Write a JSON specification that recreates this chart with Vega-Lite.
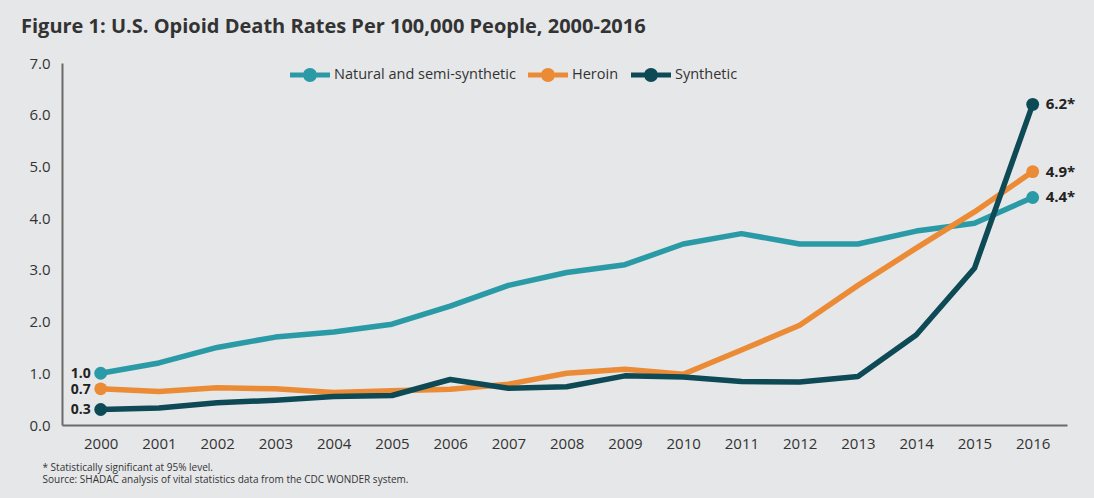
{
  "$schema": "https://vega.github.io/schema/vega-lite/v6.json",
  "width": 1005,
  "height": 362,
  "autosize": "none",
  "padding": {"left": 62, "top": 63, "right": 27, "bottom": 73},
  "background": "#e6e7e9",
  "title": {
    "text": "Figure 1: U.S. Opioid Death Rates Per 100,000 People, 2000-2016",
    "anchor": "start",
    "frame": "group",
    "dx": -41,
    "dy": -14,
    "fontSize": 20,
    "fontWeight": "bold",
    "font": "Open Sans",
    "color": "#333333"
  },
  "config": {
    "view": {"stroke": null},
    "font": "Open Sans"
  },
  "data": {
    "values": [
      {"series": "Natural and semi-synthetic", "year": 2000, "rate": 1.0},
      {"series": "Natural and semi-synthetic", "year": 2001, "rate": 1.2},
      {"series": "Natural and semi-synthetic", "year": 2002, "rate": 1.5},
      {"series": "Natural and semi-synthetic", "year": 2003, "rate": 1.7},
      {"series": "Natural and semi-synthetic", "year": 2004, "rate": 1.8},
      {"series": "Natural and semi-synthetic", "year": 2005, "rate": 1.95},
      {"series": "Natural and semi-synthetic", "year": 2006, "rate": 2.3},
      {"series": "Natural and semi-synthetic", "year": 2007, "rate": 2.7},
      {"series": "Natural and semi-synthetic", "year": 2008, "rate": 2.95},
      {"series": "Natural and semi-synthetic", "year": 2009, "rate": 3.1},
      {"series": "Natural and semi-synthetic", "year": 2010, "rate": 3.5},
      {"series": "Natural and semi-synthetic", "year": 2011, "rate": 3.7},
      {"series": "Natural and semi-synthetic", "year": 2012, "rate": 3.5},
      {"series": "Natural and semi-synthetic", "year": 2013, "rate": 3.5},
      {"series": "Natural and semi-synthetic", "year": 2014, "rate": 3.75},
      {"series": "Natural and semi-synthetic", "year": 2015, "rate": 3.9},
      {"series": "Natural and semi-synthetic", "year": 2016, "rate": 4.4},
      {"series": "Heroin", "year": 2000, "rate": 0.7},
      {"series": "Heroin", "year": 2001, "rate": 0.65},
      {"series": "Heroin", "year": 2002, "rate": 0.72},
      {"series": "Heroin", "year": 2003, "rate": 0.7},
      {"series": "Heroin", "year": 2004, "rate": 0.63},
      {"series": "Heroin", "year": 2005, "rate": 0.66},
      {"series": "Heroin", "year": 2006, "rate": 0.69},
      {"series": "Heroin", "year": 2007, "rate": 0.79},
      {"series": "Heroin", "year": 2008, "rate": 1.0},
      {"series": "Heroin", "year": 2009, "rate": 1.08},
      {"series": "Heroin", "year": 2010, "rate": 0.98},
      {"series": "Heroin", "year": 2011, "rate": 1.45},
      {"series": "Heroin", "year": 2012, "rate": 1.93},
      {"series": "Heroin", "year": 2013, "rate": 2.7},
      {"series": "Heroin", "year": 2014, "rate": 3.42},
      {"series": "Heroin", "year": 2015, "rate": 4.12},
      {"series": "Heroin", "year": 2016, "rate": 4.9},
      {"series": "Synthetic", "year": 2000, "rate": 0.3},
      {"series": "Synthetic", "year": 2001, "rate": 0.33},
      {"series": "Synthetic", "year": 2002, "rate": 0.43},
      {"series": "Synthetic", "year": 2003, "rate": 0.48},
      {"series": "Synthetic", "year": 2004, "rate": 0.55},
      {"series": "Synthetic", "year": 2005, "rate": 0.57},
      {"series": "Synthetic", "year": 2006, "rate": 0.88},
      {"series": "Synthetic", "year": 2007, "rate": 0.71},
      {"series": "Synthetic", "year": 2008, "rate": 0.74},
      {"series": "Synthetic", "year": 2009, "rate": 0.95},
      {"series": "Synthetic", "year": 2010, "rate": 0.93},
      {"series": "Synthetic", "year": 2011, "rate": 0.84},
      {"series": "Synthetic", "year": 2012, "rate": 0.83},
      {"series": "Synthetic", "year": 2013, "rate": 0.94},
      {"series": "Synthetic", "year": 2014, "rate": 1.74},
      {"series": "Synthetic", "year": 2015, "rate": 3.03},
      {"series": "Synthetic", "year": 2016, "rate": 6.2}
    ]
  },
  "encoding": {
    "x": {
      "field": "year",
      "type": "quantitative",
      "scale": {"domain": [1999.336, 2016.589], "nice": false, "zero": false},
      "axis": {
        "values": [2000, 2001, 2002, 2003, 2004, 2005, 2006, 2007, 2008, 2009, 2010, 2011, 2012, 2013, 2014, 2015, 2016],
        "format": "d",
        "grid": false,
        "ticks": false,
        "domainColor": "#6b6b6b",
        "domainWidth": 2,
        "labelFontSize": 15,
        "labelColor": "#333333",
        "labelPadding": 11,
        "labelFlush": false,
        "title": ["* Statistically significant at 95% level.", "Source: SHADAC analysis of vital statistics data from the CDC WONDER system."],
        "titleAnchor": "start",
        "titleAlign": "left",
        "titleX": -20,
        "titleY": 45,
        "titleBaseline": "alphabetic",
        "titleFontSize": 10,
        "titleFontWeight": "normal",
        "titleLineHeight": 12,
        "titleColor": "#333333"
      }
    },
    "y": {
      "field": "rate",
      "type": "quantitative",
      "scale": {"domain": [0, 7], "nice": false},
      "axis": {
        "values": [0, 1, 2, 3, 4, 5, 6, 7],
        "format": ".1f",
        "grid": false,
        "ticks": false,
        "domainColor": "#6b6b6b",
        "domainWidth": 2,
        "labelFontSize": 15,
        "labelColor": "#333333",
        "labelPadding": 12,
        "title": null
      }
    },
    "color": {
      "field": "series",
      "type": "nominal",
      "scale": {
        "domain": ["Natural and semi-synthetic", "Heroin", "Synthetic"],
        "range": ["#2a9aa6", "#ec8b36", "#0d4a55"]
      }
    }
  },
  "layer": [
    {
      "mark": {"type": "line", "strokeWidth": 5.5, "strokeJoin": "round", "strokeCap": "round"},
      "encoding": {
        "color": {
          "field": "series",
          "type": "nominal",
          "legend": {
            "title": null,
            "orient": "none",
            "direction": "horizontal",
            "legendX": 228,
            "legendY": -8,
            "symbolType": "M-1,-0.13L-0.34,-0.13L-0.34,0.13L-1,0.13Z M0.34,-0.13L1,-0.13L1,0.13L0.34,0.13Z M0.35,0A0.35,0.35 0 1,1 -0.35,0A0.35,0.35 0 1,1 0.35,0Z",
            "symbolSize": 1600,
            "symbolStrokeWidth": 0,
            "labelFontSize": 14.5,
            "labelLimit": 400,
            "labelColor": "#333333",
            "labelOffset": 4,
            "columnPadding": 12,
            "encode": {
              "symbols": {
                "update": {
                  "fill": {"scale": "color", "field": "value"},
                  "fillOpacity": {"value": 1},
                  "stroke": {"value": "transparent"}
                }
              }
            }
          }
        }
      }
    },
    {
      "transform": [{"filter": "datum.year == 2000 || datum.year == 2016"}],
      "mark": {"type": "point", "filled": true, "size": 165, "opacity": 1, "shape": "circle"},
      "encoding": {
        "color": {"field": "series", "type": "nominal", "legend": null}
      }
    },
    {
      "transform": [{"filter": "datum.year == 2000"}],
      "mark": {"type": "text", "align": "right", "baseline": "middle", "dx": -10, "dy": 1, "fontSize": 14, "fontWeight": "bold"},
      "encoding": {
        "text": {"field": "rate", "type": "quantitative", "format": ".1f"},
        "color": {"value": "#222222"}
      }
    },
    {
      "transform": [
        {"filter": "datum.year == 2016"},
        {"calculate": "format(datum.rate, '.1f') + '*'", "as": "label"}
      ],
      "mark": {"type": "text", "align": "left", "baseline": "middle", "dx": 13, "fontSize": 15, "fontWeight": "bold"},
      "encoding": {
        "text": {"field": "label", "type": "nominal"},
        "color": {"value": "#222222"}
      }
    }
  ]
}
